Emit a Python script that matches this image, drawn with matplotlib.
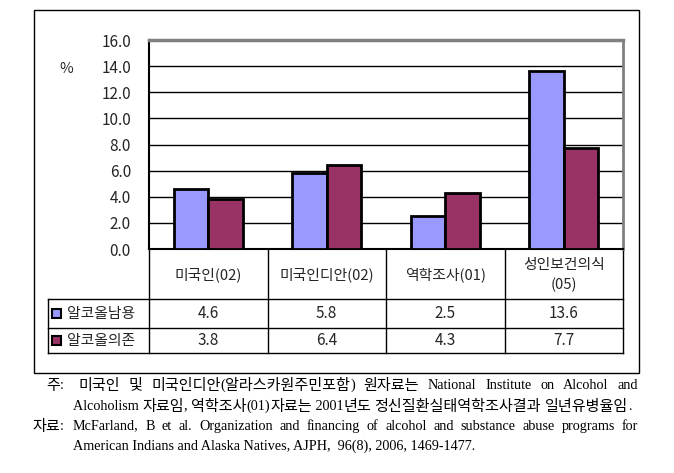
import re
import numpy as np
import matplotlib
matplotlib.use("Agg")
import matplotlib.pyplot as plt
from matplotlib.patches import Rectangle

plt.rcParams['font.family'] = ['Noto Sans CJK KR', 'DejaVu Sans']

categories = ['미국인(02)', '미국인디안(02)', '역학조사(01)', '성인보건의식\n(05)']
series_names = ['알코올남용', '알코올의존']
abuse = [4.6, 5.8, 2.5, 13.6]
depend = [3.8, 6.4, 4.3, 7.7]
colors = ['#9999FF', '#993366']
yticks = np.arange(0, 16.1, 2.0)

note1_words = ['미국인', '및', '미국인디안(알라스카원주민포함)', '원자료는', 'National',
               'Institute', 'on', 'Alcohol', 'and']
note2 = 'Alcoholism 자료임, 역학조사(01)자료는 2001년도 정신질환실태역학조사결과 일년유병율임.'
src1_words = ['McFarland,', 'B', 'et', 'al.', 'Organization', 'and', 'financing', 'of',
              'alcohol', 'and', 'substance', 'abuse', 'programs', 'for']
src2 = 'American Indians and Alaska Natives, AJPH,  96(8), 2006, 1469-1477.'

W, H = 674, 473
fig = plt.figure(figsize=(W / 100, H / 100), dpi=100)

# overlay in pixel coordinates for the frame, table and notes
ov = fig.add_axes([0, 0, 1, 1])
ov.set_xlim(0, W); ov.set_ylim(H, 0); ov.axis('off')

tc = '#262626'
num_fs = 11
kor_fs = 10.7

# plot area
px_l, px_r, px_t, px_b = 149, 623, 40, 249
ax = fig.add_axes([px_l / W, (H - px_b) / H, (px_r - px_l) / W, (px_b - px_t) / H])
x = np.arange(len(categories))
bw = 0.29
ax.bar(x - bw / 2, abuse, bw, color=colors[0], edgecolor='black', lw=2, zorder=3)
ax.bar(x + bw / 2, depend, bw, color=colors[1], edgecolor='black', lw=2, zorder=3)
ax.set_xlim(-0.5, len(categories) - 0.5)
ax.set_ylim(0, 16)
ax.set_yticks(yticks)
ax.set_yticklabels(['%.1f' % v for v in yticks], fontsize=num_fs, color=tc)
ax.tick_params(axis='y', length=0, pad=13)
ax.set_xticks([])
for v in yticks[1:-1]:
    ax.axhline(v, color='black', lw=1, zorder=1)
ax.spines['left'].set_color('black'); ax.spines['left'].set_linewidth(1.5)
ax.spines['top'].set_color('#808080'); ax.spines['top'].set_linewidth(2.5)
ax.spines['right'].set_color('#808080'); ax.spines['right'].set_linewidth(2)
ax.spines['bottom'].set_color('black'); ax.spines['bottom'].set_linewidth(1.5)
ax.text(-0.175, 0.86, '%', transform=ax.transAxes, fontsize=kor_fs, ha='center', va='center',
        color=tc)

# outer frame
ov.add_patch(Rectangle((34, 10), 605, 363, fill=False, ec='black', lw=1))

# data table
cw = (px_r - px_l) / len(categories)
tl = 48
r0, r1, r2 = 299, 328, 353
for yy in (r0, r1, r2):
    ov.plot([tl, px_r], [yy, yy], color='black', lw=1)
ov.plot([tl, tl], [r0, r2], color='black', lw=1)
for i in range(len(categories) + 1):
    xx = px_l + i * cw
    ov.plot([xx, xx], [px_b, r2], color='black', lw=1)
for i, c in enumerate(categories):
    cx = px_l + (i + 0.5) * cw
    ov.text(cx, (px_b + r0) / 2 + 1, c, ha='center', va='center', fontsize=kor_fs,
            linespacing=1.55, color=tc)
    ov.text(cx, (r0 + r1) / 2, '%.1f' % abuse[i], ha='center', va='center', fontsize=num_fs,
            color=tc)
    ov.text(cx, (r1 + r2) / 2, '%.1f' % depend[i], ha='center', va='center', fontsize=num_fs,
            color=tc)
for j, (name, col) in enumerate(zip(series_names, colors)):
    cy = (r0 + r1) / 2 if j == 0 else (r1 + r2) / 2
    ov.add_patch(Rectangle((52, cy - 4.5), 9, 9, fc=col, ec='black', lw=1.5))
    ov.text(67, cy, name, ha='left', va='center', fontsize=kor_fs, color=tc)

# notes: latin in a serif face, hangul a bit larger
lat_fam, lat_fs = 'Liberation Serif', 10.2
han_fam, han_fs = 'Noto Sans CJK KR', 10.9
renderer = fig.canvas.get_renderer()


def runs(s):
    return [m.group(0) for m in re.finditer(r'[\uac00-\ud7a3]+|[^\uac00-\ud7a3]+', s)]


def put(s, x0, y):
    """draw a mixed string run by run, return the x after it"""
    xx = x0
    for r in runs(s):
        han = '\uac00' <= r[0] <= '\ud7a3'
        t = ov.text(xx, y, r, ha='left', va='center',
                    fontsize=han_fs if han else lat_fs,
                    family=[han_fam] if han else [lat_fam, han_fam])
        xx += t.get_window_extent(renderer).width
    return xx


def width(s):
    n = len(ov.texts)
    end = put(s, 0, -100)
    for t in ov.texts[n:]:
        t.remove()
    return end


def justify(words, y, x0, x1):
    ws = [width(w) for w in words]
    gap = (x1 - x0 - sum(ws)) / (len(words) - 1)
    xx = x0
    for w, wd in zip(words, ws):
        put(w, xx, y)
        xx += wd + gap


for lab, yy in (('주:', 385), ('자료:', 426)):
    put(lab, 64 - width(lab), yy)
justify(note1_words, 385, 78, 638)
put(note2, 73, 406)
justify(src1_words, 426, 73, 638)
put(src2, 73, 446)

fig.savefig('out.png', dpi=100)
